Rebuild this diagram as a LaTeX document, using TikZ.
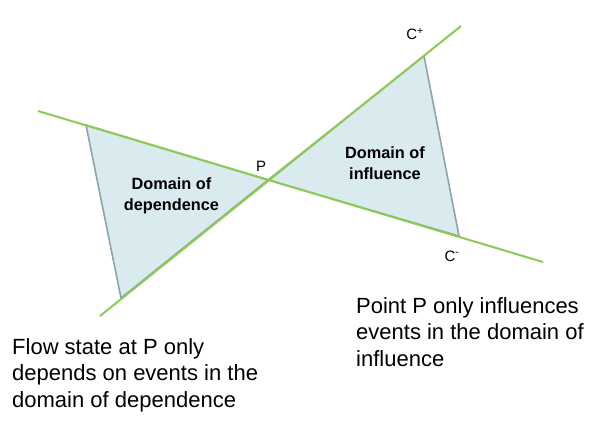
\documentclass[tikz,border=0pt]{standalone}
\usepackage{fontspec}
\setmainfont{Liberation Sans}
\definecolor{linegreen}{HTML}{8CCB52}
\definecolor{trifill}{HTML}{DAEBEF}
\definecolor{triedge}{HTML}{8FA3AD}
\begin{document}
\begin{tikzpicture}[x=1pt,y=-1pt,
  chline/.style={draw=linegreen,line width=2pt},
  domtri/.style={fill=trifill,draw=triedge,line width=1.6pt,line join=round},
  bodytext/.style={font=\fontsize{22}{26.5}\selectfont,align=left,anchor=base west,inner sep=0pt},
  domlabel/.style={font=\bfseries\fontsize{16.3}{20.5}\selectfont,align=center,inner sep=0pt},
  ptlabel/.style={font=\fontsize{15}{16}\selectfont,inner sep=0pt}]
\useasboundingbox (0,0) rectangle (604,421);
\coordinate (P) at (268,180);
\coordinate (A1) at (38,111);
\coordinate (A2) at (543,262);
\coordinate (B1) at (100,316);
\coordinate (B2) at (461,26);
\coordinate (L1) at (86,125);
\coordinate (L2) at (121,298);
\coordinate (R1) at (424,56);
\coordinate (R2) at (459,236);
\path[domtri] (P) -- (L1) -- (L2) -- cycle;
\path[domtri] (P) -- (R1) -- (R2) -- cycle;
\draw[chline] (A1) -- (A2);
\draw[chline] (B1) -- (B2);
\node[domlabel] (dep) at (171.5,196) {Domain of\\dependence};
\node[domlabel] (inf) at (385,163) {Domain of\\influence};
\node[ptlabel] (plab) at (261,166) {P};
\node[ptlabel] (cplus) at (415,34) {C\textsuperscript{+}};
\node[ptlabel] (cminus) at (452,256) {C\textsuperscript{-}};
\node[bodytext] (left) at (12,407) {Flow state at P only\\depends on events in the\\domain of dependence};
\node[bodytext] (right) at (356,366) {Point P only influences\\events in the domain of\\influence};
\end{tikzpicture}
\end{document}
